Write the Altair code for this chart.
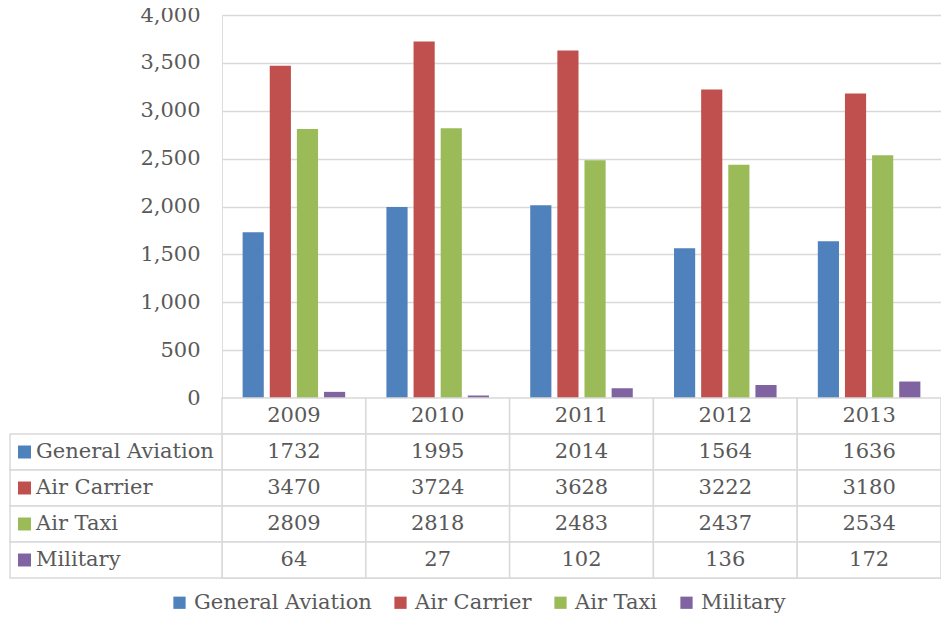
import altair as alt
import pandas as pd

years = ["2009", "2010", "2011", "2012", "2013"]
series = ["General Aviation", "Air Carrier", "Air Taxi", "Military"]
general_aviation = [1732, 1995, 2014, 1564, 1636]
air_carrier = [3470, 3724, 3628, 3222, 3180]
air_taxi = [2809, 2818, 2483, 2437, 2534]
military = [64, 27, 102, 136, 172]
colors = ["#4F81BD", "#C0504D", "#9BBB59", "#8064A2"]
y_ticks = [0, 500, 1000, 1500, 2000, 2500, 3000, 3500, 4000]

FONT = "DejaVu Serif"
TXT = "#595959"
GRID = "#d9d9d9"
FS = 21
W = 719

rows = []
for s, vals in zip(series, [general_aviation, air_carrier, air_taxi, military]):
    for yr, v in zip(years, vals):
        rows.append({"year": yr, "series": s, "value": v, "row": s, "label": str(v)})
df = pd.DataFrame(rows)
hdr = pd.DataFrame({"year": years, "row": ["Year"] * len(years), "label": years})
table_df = pd.concat([hdr, df[["year", "row", "label"]]], ignore_index=True)
left_df = pd.DataFrame({"row": series, "series": series})

row_domain = ["Year"] + series
xscale = alt.Scale(domain=years, paddingInner=0, paddingOuter=0)
yrow = alt.Y("row:N", scale=alt.Scale(domain=row_domain, paddingInner=0, paddingOuter=0), axis=None)

color = alt.Color(
    "series:N",
    scale=alt.Scale(domain=series, range=colors),
    legend=alt.Legend(
        title=None, orient="none", direction="horizontal",
        legendX=-53, legendY=577,
        symbolType="square", symbolSize=150, symbolStrokeWidth=0,
        labelFont=FONT, labelFontSize=FS, labelColor=TXT,
        labelOffset=4, columnPadding=18, labelLimit=300,
    ),
)

bars = alt.Chart(df).mark_bar().encode(
    x=alt.X("year:N", scale=xscale, axis=None),
    xOffset=alt.XOffset("series:N", scale=alt.Scale(domain=series, paddingInner=0.22, paddingOuter=0.76)),
    y=alt.Y(
        "value:Q",
        scale=alt.Scale(domain=[0, 4000]),
        axis=alt.Axis(
            values=y_ticks, format=",d", title=None, ticks=False, domain=False,
            labelFont=FONT, labelFontSize=FS, labelColor=TXT, labelPadding=22,
            gridColor=GRID, gridWidth=1.5,
        ),
    ),
    color=color,
).properties(width=W, height=383)

cells = alt.Chart(table_df).mark_rect(fill="white", stroke=GRID, strokeWidth=1.5).encode(
    x=alt.X("year:N", scale=xscale, axis=None), y=yrow
)
cell_text = alt.Chart(table_df).mark_text(font=FONT, fontSize=FS, color=TXT).encode(
    x=alt.X("year:N", scale=xscale, axis=None), y=yrow, text="label:N"
)
left_cells = alt.Chart(left_df).mark_rect(fill="white", stroke=GRID, strokeWidth=1.5).encode(
    x=alt.value(-212), x2=alt.value(0), y=yrow
)
left_text = alt.Chart(left_df).mark_text(font=FONT, fontSize=FS, color=TXT, align="left").encode(
    x=alt.value(-186), y=yrow, text="series:N"
)
squares = alt.Chart(left_df).mark_square(size=169, opacity=1).encode(
    x=alt.value(-197.5), y=yrow, color=color
)
table = alt.layer(cells, cell_text, left_cells, left_text, squares).properties(width=W, height=180)

chart = alt.vconcat(bars, table, spacing=0, bounds="flush").properties(
    autosize=alt.AutoSizeParams(type="none"),
    padding={"left": 214, "top": 7, "right": 0, "bottom": 600},
).configure_view(stroke=None).configure(font=FONT).configure_legend(labelFont=FONT)

chart.save("out.html", embed_options={"renderer": "svg", "actions": False})
